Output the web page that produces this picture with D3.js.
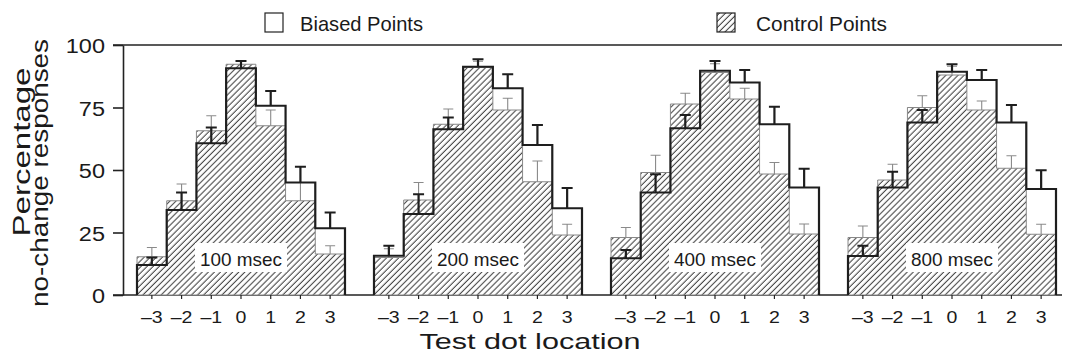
<!DOCTYPE html>
<html>
<head>
<meta charset="utf-8">
<script src="https://cdn.jsdelivr.net/npm/d3@7"></script>
<style>
  body { margin: 0; background: #fff; }
  svg text { font-family: "Liberation Sans", Arial, Helvetica, sans-serif; fill: #1a1a1a; }
</style>
</head>
<body>
<svg id="chart" width="1068" height="358"></svg>
<script>
// test dot locations and delay conditions
const locations = [-3, -2, -1, 0, 1, 2, 3];
const durations = ["100 msec", "200 msec", "400 msec", "800 msec"];

// percentage of no-change responses, biased points (one row per delay)
const biased100 = [12, 34, 60.7, 90.7, 75.7, 45, 26.7];
const biased200 = [15.7, 32.4, 66.3, 91.3, 82.7, 60, 34.7];
const biased400 = [14.7, 41, 66.7, 89.7, 85, 68.3, 43];
const biased800 = [15.6, 43, 69, 89.3, 86, 69, 42.4];
const biasedErr100 = [3, 7, 6.3, 2.9, 5.9, 6.3, 6.3];
const biasedErr200 = [4, 7.9, 4.7, 3, 5.6, 8, 8.1];
const biasedErr400 = [3.3, 7.3, 5.3, 3.9, 5, 7, 7.5];
const biasedErr800 = [4.1, 6.3, 5, 3, 4, 7, 7.5];

// control points
const control100 = [15.3, 37.7, 65.7, 92.3, 67.7, 37.7, 16.4];
const control200 = [15, 38, 68.3, 91, 74, 45.3, 24];
const control400 = [23, 49, 76.4, 89, 78.4, 48.4, 24.4];
const control800 = [23, 46, 75, 88, 74, 50.7, 24.3];
const controlErr100 = [3.7, 6.7, 6, 1.2, 6.3, 7.3, 3.3];
const controlErr200 = [3.5, 7, 6.1, 2.5, 4.7, 8.3, 4.3];
const controlErr400 = [4, 6.9, 4.3, 3.5, 4.3, 4.6, 4];
const controlErr800 = [4.6, 6.3, 4.7, 3.5, 3.6, 5, 4];

const yTicks = [0, 25, 50, 75, 100];

const panels = durations.map((d, i) => ({
  name: d,
  biased: [biased100, biased200, biased400, biased800][i],
  biasedErr: [biasedErr100, biasedErr200, biasedErr400, biasedErr800][i],
  control: [control100, control200, control400, control800][i],
  controlErr: [controlErr100, controlErr200, controlErr400, controlErr800][i]
}));

const svg = d3.select("#chart");
const TOP = 45, BOTTOM = 295;
const AXIS_X = 123;

const y = d3.scaleLinear().domain([0, 100]).range([BOTTOM, TOP]);
const xPanel = d3.scaleBand().domain(durations).range([137, 1056]).paddingInner(0.1224).paddingOuter(0);
const xLoc = d3.scaleBand().domain(locations).range([0, xPanel.bandwidth()]).padding(0);
const bw = xLoc.bandwidth();

// hatch pattern
const defs = svg.append("defs");
const pat = defs.append("pattern")
  .attr("id", "hatch")
  .attr("patternUnits", "userSpaceOnUse")
  .attr("width", 4.3).attr("height", 4.3)
  .attr("patternTransform", "rotate(45)");
pat.append("rect").attr("width", 4.3).attr("height", 4.3).attr("fill", "#fff");
pat.append("line")
  .attr("x1", 2).attr("y1", -1).attr("x2", 2).attr("y2", 5.3)
  .attr("stroke", "#2e2e2e").attr("stroke-width", 0.95);

function stepPoints(vals) {
  const pts = [[xLoc(locations[0]), y(0)]];
  locations.forEach((l, i) => {
    pts.push([xLoc(l), y(vals[i])]);
    pts.push([xLoc(l) + bw, y(vals[i])]);
  });
  pts.push([xLoc(locations[locations.length - 1]) + bw, y(0)]);
  return pts;
}
const line = d3.line();

function errBars(g, vals, errs, cls, color, width, cap) {
  g.append("g").attr("class", cls)
    .selectAll("g")
    .data(locations.map((l, i) => ({ l: l, v: vals[i], e: errs[i] })))
    .enter().append("path")
    .attr("d", d => {
      const cx = xLoc(d.l) + bw / 2;
      return `M${cx},${y(d.v)}V${y(d.v + d.e)}M${cx - cap / 2},${y(d.v + d.e)}H${cx + cap / 2}`;
    })
    .attr("fill", "none").attr("stroke", color).attr("stroke-width", width);
}

// frame lines
svg.append("line").attr("x1", 113).attr("x2", 1062).attr("y1", TOP).attr("y2", TOP)
  .attr("stroke", "#222").attr("stroke-width", 1.6);
svg.append("line").attr("x1", 113).attr("x2", 1062).attr("y1", BOTTOM).attr("y2", BOTTOM)
  .attr("stroke", "#222").attr("stroke-width", 1.6);

// y axis
const yAxis = svg.append("g").attr("transform", `translate(${AXIS_X},0)`)
  .call(d3.axisLeft(y).tickValues(yTicks).tickSize(10).tickSizeOuter(0));
yAxis.select(".domain").attr("stroke", "#222").attr("stroke-width", 1.6);
yAxis.selectAll(".tick line").attr("stroke", "#222").attr("stroke-width", 1.6);
yAxis.selectAll(".tick text")
  .attr("x", null).attr("dy", "0.36em")
  .attr("transform", "translate(-18,0) scale(1.12,1)")
  .attr("font-size", 21).attr("text-anchor", "end").attr("fill", "#1a1a1a");

// panels
panels.forEach(p => {
  const g = svg.append("g").attr("transform", `translate(${xPanel(p.name)},0)`);

  g.append("path")
    .attr("d", line(stepPoints(p.control)) + "Z")
    .attr("fill", "url(#hatch)")
    .attr("stroke", "#888").attr("stroke-width", 1);

  errBars(g, p.control, p.controlErr, "cerr", "#8a8a8a", 1.1, 10);

  g.append("path")
    .attr("d", line(stepPoints(p.biased)))
    .attr("fill", "none")
    .attr("stroke", "#1e1e1e").attr("stroke-width", 2.2)
    .attr("stroke-linejoin", "miter");

  errBars(g, p.biased, p.biasedErr, "berr", "#1e1e1e", 2.2, 11);

  const cx = xPanel.bandwidth() / 2;
  g.append("rect")
    .attr("x", cx - 46).attr("y", 243).attr("width", 92).attr("height", 29)
    .attr("fill", "#fff");
  g.append("text")
    .attr("x", cx).attr("y", 265.5)
    .attr("text-anchor", "middle").attr("font-size", 19)
    .attr("textLength", 82).attr("lengthAdjust", "spacingAndGlyphs")
    .text(p.name);

  const xAxis = g.append("g").attr("transform", `translate(0,${BOTTOM})`)
    .call(d3.axisBottom(xLoc).tickSize(4).tickSizeOuter(0)
      .tickFormat(d => d < 0 ? "\u2013" + Math.abs(d) : d));
  xAxis.select(".domain").remove();
  xAxis.selectAll(".tick line").attr("stroke", "#222").attr("stroke-width", 1.2);
  xAxis.selectAll(".tick text")
    .attr("y", null).attr("dy", null)
    .attr("transform", "translate(0,27.5) scale(1.15,1)")
    .attr("font-size", 17).attr("fill", "#1a1a1a");
});

// axis titles
svg.append("text")
  .attr("x", 530).attr("y", 349)
  .attr("text-anchor", "middle").attr("font-size", 22.5)
  .attr("textLength", 221).attr("lengthAdjust", "spacingAndGlyphs")
  .text("Test dot location");

svg.append("text")
  .attr("transform", "translate(29.5,152) rotate(-90)")
  .attr("text-anchor", "middle").attr("font-size", 23.5)
  .attr("textLength", 169).attr("lengthAdjust", "spacingAndGlyphs")
  .text("Percentage");
svg.append("text")
  .attr("transform", "translate(47.5,173) rotate(-90)")
  .attr("text-anchor", "middle").attr("font-size", 23.5)
  .attr("textLength", 268).attr("lengthAdjust", "spacingAndGlyphs")
  .text("no-change responses");

// legend
const legend = [
  { label: "Biased Points", fill: "#fff", x: 265, tx: 300, len: 123 },
  { label: "Control Points", fill: "url(#hatch)", x: 717, tx: 756, len: 131 }
];
const lg = svg.append("g").selectAll("g").data(legend).enter().append("g");
lg.append("rect")
  .attr("x", d => d.x).attr("y", 13).attr("width", 18).attr("height", 19)
  .attr("fill", d => d.fill).attr("stroke", "#222").attr("stroke-width", 1.2);
lg.append("text")
  .attr("x", d => d.tx).attr("y", 30.5)
  .attr("font-size", 21)
  .attr("textLength", d => d.len).attr("lengthAdjust", "spacingAndGlyphs")
  .text(d => d.label);
</script>
</body>
</html>
